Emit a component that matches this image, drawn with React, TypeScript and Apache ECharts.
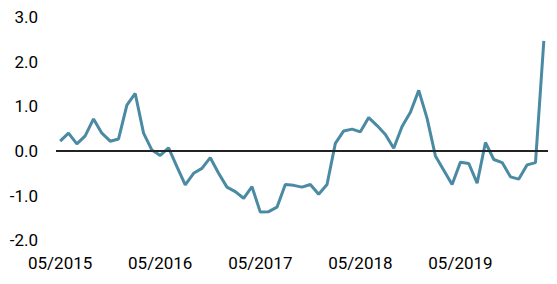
import React, { useEffect, useRef } from "react";
import * as echarts from "echarts";

const months: string[] = [];
(() => {
  let m = 5, y = 2015;
  for (let i = 0; i < 59; i++) {
    months.push(String(m).padStart(2, "0") + "/" + y);
    m++;
    if (m > 12) { m = 1; y++; }
  }
})();

const values: number[] = [
  0.22, 0.40, 0.16, 0.34, 0.72, 0.40, 0.22, 0.27, 1.03, 1.29,
  0.40, 0.02, -0.10, 0.07, -0.35, -0.76, -0.50, -0.39, -0.15, -0.50,
  -0.81, -0.91, -1.06, -0.80, -1.37, -1.36, -1.26, -0.75, -0.77, -0.81,
  -0.75, -0.97, -0.75, 0.17, 0.45, 0.49, 0.43, 0.75, 0.57, 0.37,
  0.06, 0.55, 0.87, 1.36, 0.73, -0.11, -0.43, -0.75, -0.25, -0.28,
  -0.72, 0.19, -0.19, -0.26, -0.58, -0.63, -0.31, -0.26, 2.47,
];

const yMin = -2;
const yMax = 3;
const yInterval = 1;

export default function App() {
  const ref = useRef<HTMLDivElement>(null);
  useEffect(() => {
    const chart = echarts.init(ref.current!, null, { renderer: "svg" });
    chart.setOption({
      animation: false,
      grid: { left: 56, right: 9, top: 17.2, bottom: 43.8, containLabel: false },
      xAxis: {
        type: "category",
        data: months,
        boundaryGap: true,
        axisLine: { show: false },
        axisTick: { show: false },
        splitLine: { show: false },
        axisLabel: {
          interval: 11,
          margin: 14,
          color: "#000",
          fontSize: 17,
          fontFamily: "Roboto, Arial, sans-serif",
        },
      },
      yAxis: {
        type: "value",
        min: yMin,
        max: yMax,
        interval: yInterval,
        axisLine: { show: false },
        axisTick: { show: false },
        splitLine: { show: false },
        axisLabel: {
          margin: 18,
          color: "#000",
          fontSize: 17,
          fontFamily: "Roboto, Arial, sans-serif",
          formatter: (v: number) => v.toFixed(1),
        },
      },
      series: [
        {
          type: "line",
          data: values,
          symbol: "none",
          lineStyle: { color: "#4a8aa2", width: 3 },
          markLine: {
            silent: true,
            symbol: "none",
            label: { show: false },
            lineStyle: { color: "#222", width: 2, type: "solid" },
            data: [{ yAxis: 0 }],
          },
          z: 3,
        },
      ],
    });
    return () => chart.dispose();
  }, []);
  return <div ref={ref} style={{ width: 557, height: 284, position: "absolute", left: 0, top: 0 }} />;
}
